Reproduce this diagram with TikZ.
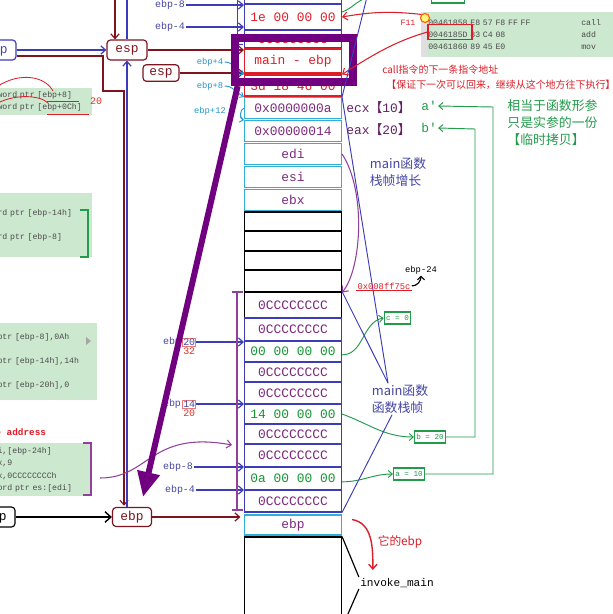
\documentclass[tikz,border=0pt]{standalone}
\usepackage{fontspec}
\setmonofont{Liberation Mono}
\newfontfamily\cjk{Noto Sans CJK SC}
\usepackage{tikz}
\usetikzlibrary{positioning, arrows.meta}
\definecolor{stackblue}{RGB}{60,60,185}
\definecolor{cellcyan}{RGB}{50,175,215}
\definecolor{cellpurple}{RGB}{125,40,125}
\definecolor{cellgreen}{RGB}{20,150,50}
\definecolor{regred}{RGB}{125,20,30}
\definecolor{labelblue}{RGB}{70,70,165}
\definecolor{labelcyan}{RGB}{40,150,205}
\definecolor{asmgreen}{RGB}{204,232,207}
\definecolor{asmgray}{RGB}{75,75,75}
\definecolor{hlviolet}{RGB}{112,0,128}
\definecolor{notered}{RGB}{220,30,40}
\definecolor{notegreen}{RGB}{35,155,75}
\definecolor{braceviolet}{RGB}{145,65,155}
\newcommand{\cellfont}{\fontsize{11}{13}\selectfont\ttfamily}
\newcommand{\lblfont}{\fontsize{8.5}{10}\selectfont\ttfamily}
\newcommand{\smallfont}{\fontsize{7.5}{9}\selectfont\ttfamily}
\newcommand{\notefont}{\fontsize{11}{14.5}\selectfont\cjk}

\begin{document}
\begin{tikzpicture}[x=0.03cm, y=-0.03cm,
    cell/.style={draw=stackblue, line width=.9pt, minimum width=2.91cm, inner sep=0pt,
                 text=cellpurple, font=\cellfont},
    regcell/.style={cell, draw=cellcyan},
    blankcell/.style={cell, draw=black},
    regbox/.style={draw, rounded corners=3pt, line width=1pt, minimum width=1.2cm,
                   minimum height=.6cm, inner sep=1pt, font=\cellfont},
    lbl/.style={inner sep=1pt, text=labelblue, font=\lblfont},
    lblc/.style={inner sep=1pt, text=labelcyan, font=\smallfont},
    numbox/.style={draw=notered!60, line width=.5pt, inner sep=.5pt, text=labelblue, font=\lblfont},
    rednum/.style={inner sep=1pt, text=notered!80!orange, font=\lblfont},
    valbox/.style={draw=notegreen, line width=1pt, inner sep=1.5pt, minimum height=.36cm,
                   text=notegreen, font=\fontsize{6.5}{8}\selectfont\ttfamily},
    codebox/.style={fill=asmgreen, anchor=north west, align=left, inner xsep=2pt, inner ysep=0pt,
                    text=asmgray},
    bluearr/.style={draw=stackblue, line width=1pt, -{Straight Barb[length=4pt,width=7pt]}},
    dkarr/.style={draw=regred, line width=1pt, -{Straight Barb[length=4pt,width=7pt]}},
    grnarr/.style={draw=notegreen, line width=.8pt, -{Straight Barb[length=3.5pt,width=6pt]}},
    cyanarr/.style={draw=labelcyan, line width=.8pt, -{Straight Barb[length=3pt,width=5pt]}},
    purparr/.style={draw=braceviolet, line width=.9pt, -{Straight Barb[length=4pt,width=7pt]}},
    redarr/.style={draw=notered, line width=.9pt, -{Straight Barb[length=4pt,width=7pt]}}]
  \path[use as bounding box, fill=white] (0,0) rectangle (612,614);

  % stack above the frame
  \node[cell, text=notered, minimum height=.78cm] (t0) at (293,-9) {0CCCCCCCC};
  \node[cell, text=notered, minimum height=.78cm] (t1) at (293,17) {1e 00 00 00};
  \node[cell, text=notered, minimum height=.54cm] (t2) at (293,39) {0CCCCCCCC};
  \node[cell, draw=notered, text=notered, minimum height=.72cm] (t3) at (293,61) {main - ebp};
  \node[cell, draw=notered, text=notered, minimum height=.63cm] (t4) at (293,85.5) {3d 18 46 00};
  % arguments and saved registers
  \node[regcell, minimum height=.63cm] (r1) at (293,108) {0x0000000a};
  \node[regcell, minimum height=.63cm] (r2) at (293,131) {0x00000014};
  \node[regcell, minimum height=.63cm] (r3) at (293,154) {edi};
  \node[regcell, minimum height=.63cm] (r4) at (293,177) {esi};
  \node[regcell, minimum height=.63cm] (r5) at (293,200) {ebx};
  \node[blankcell, minimum height=.57cm] (b1) at (293,221.5) {};
  \node[blankcell, minimum height=.6cm] (b2) at (293,241) {};
  \node[blankcell, minimum height=.57cm] (b3) at (293,260.5) {};
  \node[blankcell, minimum height=.66cm] (b4) at (293,281) {};
  % main frame
  \node[blankcell, text=cellpurple, minimum height=.78cm] (m1) at (293,305) {0CCCCCCCC};
  \node[cell, minimum height=.69cm] (m2) at (293,329.5) {0CCCCCCCC};
  \node[cell, text=cellgreen, minimum height=.63cm] (m3) at (293,351.5) {00 00 00 00};
  \node[cell, minimum height=.6cm] (m4) at (293,372) {0CCCCCCCC};
  \node[cell, minimum height=.66cm] (m5) at (293,393) {0CCCCCCCC};
  \node[cell, text=cellgreen, minimum height=.6cm] (m6) at (293,414) {14 00 00 00};
  \node[cell, minimum height=.6cm] (m7) at (293,434) {0CCCCCCCC};
  \node[cell, minimum height=.69cm] (m8) at (293,455.5) {0CCCCCCCC};
  \node[cell, text=cellgreen, minimum height=.69cm] (m9) at (293,478.5) {0a 00 00 00};
  \node[cell, minimum height=.66cm] (m10) at (293,501) {0CCCCCCCC};
  \node[regcell, minimum height=.6cm] (ebprow) at (293,525) {ebp};
  \node[blankcell, minimum height=2.7cm] (big) at (293,582) {};
  \node[inner sep=1pt, font=\fontsize{9.5}{11}\selectfont\ttfamily] (inv) at (397,583) {invoke\_main};
  \draw[line width=1pt] (big.north east) -- (inv.north west);
  \draw[line width=1pt] (inv.south west) -- (big.south east);

  % registers
  \node[regbox, draw=stackblue, text=labelblue] (lebpT) at (-4,50) {ebp};
  \node[regbox, draw=regred, text=regred] (esp1) at (127,50) {esp};
  \node[regbox, draw=regred, text=regred, minimum width=1.08cm, minimum height=.5cm] (esp2) at (161,73) {esp};
  \node[regbox, draw=black, text=black] (lebpB) at (-5,517) {ebp};
  \node[regbox, draw=regred, text=regred, minimum width=1.17cm, minimum height=.57cm] (ebpB) at (132,517) {ebp};
  \coordinate (topred) at (115,-5);
  \coordinate (kink) at (103,91);
  \coordinate (drop) at (124,91);
  \draw[bluearr] (lebpT) -- (esp1);
  \draw[dkarr] (topred) -- (topred |- esp1.north);
  \draw[draw=stackblue, line width=1pt] (esp1.north) -- (esp1.north |- topred);
  \draw[dkarr] ([yshift=-0.18cm]lebpT.east) -| (kink) -- (drop) -- ([yshift=1pt]drop |- ebpB.north);
  \draw[bluearr] (ebpB.north -| esp1.south) -- (esp1.south);
  \draw[dkarr] (esp1) -- (esp1 -| t3.west);
  \draw[dkarr] (esp2) -- (esp2 -| t3.west);
  \draw[line width=1.2pt, -{Straight Barb[length=5pt,width=9pt]}] (lebpB) -- (ebpB);
  \draw[dkarr, shorten >=3pt] (ebpB) -- (ebpB -| ebprow.west);

  % offsets
  \node[lbl] (lm8t) at (170,5) {ebp-8};
  \node[lbl] (lm4t) at (170,27) {ebp-4};
  \draw[bluearr] (lm8t) -- (lm8t -| t1.west);
  \draw[bluearr] (lm4t) -- (lm4t -| t1.west);
  \draw[stackblue, line width=.8pt] (237,-5) -- (237,44) -- (243,44);
  \node[lblc] (lp4) at (210,62) {ebp+4};
  \node[lblc] (lp8) at (210,86) {ebp+8};
  \node[lblc] (lp12) at (210,111) {ebp+12};
  \draw[cyanarr] (lp4.east) to[out=0,in=150] (t4.north west);
  \draw[cyanarr] (lp8.east) to[out=0,in=150] (r1.north west);
  \draw[cyanarr] (r1.west) to[out=200,in=170] (r2.north west);
  \node[lbl] (l20) at (172,342) {ebp};
  \node[numbox, right=0pt of l20] (n20) {20};
  \node[rednum, below=0pt of n20] (n32) {32};
  \node[lbl] (l14) at (172,404) {ebp};
  \node[numbox, right=0pt of l14] (n14) {14};
  \node[rednum, below=0pt of n14] (n20b) {20};
  \node[lbl] (lm8) at (178,467) {ebp-8};
  \node[lbl] (lm4) at (180,490) {ebp-4};
  \draw[bluearr] (n20) -- (n20 -| m3.west);
  \draw[bluearr] (n14) -- (n14 -| m6.west);
  \draw[bluearr] (lm8) -- (lm8 -| m9.west);
  \draw[bluearr] (lm4) -- (lm4 -| m10.west);
  \draw[braceviolet, line width=1pt] (232,292) -- (243,292) (237,292) -- (237,510) (232,510) -- (243,510);

  % left hand code
  \node[codebox, text width=2.75cm, minimum height=.81cm, font=\fontsize{7}{10.2}\selectfont\ttfamily]
    (code1) at (-5,88) {word ptr [ebp+8]\\word ptr [ebp+0Ch]};
  \draw[notered, line width=.7pt] (-2,86) .. controls (20,72) and (45,76) .. (53,91);
  \draw[notered, line width=.7pt] (-2,103) .. controls (15,94) and (40,95) .. (48,103);
  \draw[notered, line width=.7pt] (47,101) -- (79,101) (47,114) -- (89,114);
  \node[rednum] (n20a) at (96,101) {20};
  \node[codebox, text width=2.75cm, minimum height=1.92cm, font=\fontsize{7}{20.4}\selectfont\ttfamily]
    (code2) at (-5,193) {rd ptr [ebp-14h]\\rd ptr [ebp-8]};
  \draw[notegreen, line width=1pt] (80,210) -- (88,210) -- (88,257) -- (80,257);
  \node[codebox, text width=2.9cm, minimum height=2.31cm, font=\fontsize{7}{20.4}\selectfont\ttfamily]
    (code3) at (-5,323) {ptr [ebp-8],0Ah\\ptr [ebp-14h],14h\\ptr [ebp-20h],0};
  \fill[gray!70] (86,337) -- (91,341) -- (86,345) -- cycle;
  \node[anchor=west, inner sep=1pt, text=notered, font=\fontsize{8}{9}\selectfont\ttfamily\bfseries]
    (addrlbl) at (-6,432) {e address};
  \node[codebox, text width=2.71cm, minimum height=1.59cm, font=\fontsize{7}{10.5}\selectfont\ttfamily]
    (code4) at (-5,443) {i,[ebp-24h]\\x,9\\x,0CCCCCCCCh\\ord ptr es:[edi]};
  \draw[braceviolet, line width=1pt] (83,443) -- (91,443) -- (91,495) -- (83,495);
  \coordinate (c4out) at (100,478);
  \coordinate (m8in) at (232,445);
  \draw[purparr] (c4out) .. controls (150,478) and (150,430) .. (m8in);

  % highlight of the return address
  \node[draw=hlviolet, line width=.24cm, minimum width=3.54cm, minimum height=1.32cm, inner sep=0pt]
    (hl) at (294,60) {};
  \draw[hlviolet, line width=.18cm, -{Triangle[length=.75cm,width=.65cm]}]
    ([xshift=0.2cm]hl.south west) -- ([xshift=.33cm,yshift=.3cm]ebpB.north);

  % disassembly
  \node[codebox, inner xsep=6pt, text width=5.9cm, minimum height=1.35cm, font=\fontsize{7}{10.2}\selectfont\ttfamily]
    (dasm) at (421,12) {\makebox[4.59cm][l]{00461858 E8 57 F8 FF FF}call\\
                        \makebox[4.59cm][l]{0046185D 83 C4 08}add\\
                        \makebox[4.59cm][l]{00461860 89 45 E0}mov};
  \fill[gray!25] (421,12) rectangle (427,57);
  \node[draw=notered, line width=1pt, inner sep=0pt, minimum width=1.32cm, minimum height=.45cm]
    (retbox) at (450,32) {};
  \node[inner sep=1pt, text=notered, font=\fontsize{7}{8}\selectfont\ttfamily] (f11) at (408,23) {F11};
  \node[circle, draw=orange!80!red, fill=yellow!50, line width=1pt, minimum size=.27cm, inner sep=0pt]
    (dot) at (425,18) {};
  \node[draw=notegreen, line width=1pt, minimum width=1cm, minimum height=.6cm] (topbox) at (448,-7) {};
  \coordinate (topgreen) at (366,-2);
  \draw[notegreen, line width=.8pt] ([yshift=.15cm]t1.east) to[out=20,in=200] (topgreen);
  \draw[redarr] (dot.north west) to[bend right=8] (t1.east);
  \draw[redarr] (retbox.west) .. controls (400,40) and (380,50) .. (t4.north east);
  \node[anchor=west, inner sep=1pt, text=notered, font=\fontsize{8.5}{10}\selectfont\cjk]
    (callnote) at (381,70) {call指令的下一条指令地址};
  \node[anchor=west, inner sep=1pt, text=notered, font=\fontsize{8.5}{10}\selectfont\cjk]
    (keepnote) at (385,85) {【保证下一次可以回来，继续从这个地方往下执行】};

  % copies of the arguments
  \node[anchor=west, inner sep=1pt, text=cellpurple!80!black, font=\cellfont]
    (ecx) at (345,108) {ecx{\cjk 【}10{\cjk 】}};
  \node[anchor=west, inner sep=1pt, text=cellpurple!80!black, font=\cellfont]
    (eax) at (345,130) {eax{\cjk 【}20{\cjk 】}};
  \node[inner sep=1pt, text=notegreen, font=\cellfont] (ap) at (429,106) {a'};
  \node[inner sep=1pt, text=notegreen, font=\cellfont] (bp) at (429,128) {b'};
  \node[anchor=north west, align=left, inner sep=1pt, text=notegreen, font=\notefont]
    (copynote) at (506,98) {相当于函数形参\\只是实参的一份\\【临时拷贝】};
  \node[valbox] (cv) at (397.5,318) {c = 0};
  \node[valbox] (bv) at (430,437) {b = 20};
  \node[valbox] (av) at (409,474) {a = 10};
  \coordinate (ga) at (493,107);
  \coordinate (gb) at (475,129);
  \draw[grnarr] (av.east) -| (ga) -- (ap.east);
  \draw[grnarr] (bv.east) -| (gb) -- (bp.east);
  \draw[grnarr] ([yshift=-.1cm]m3.east) to[out=0,in=190] (cv.west);
  \draw[grnarr] (m6.east) to[out=-20,in=180] (bv.west);
  \draw[grnarr] ([yshift=-.1cm]m9.east) to[out=0,in=180] (av.west);

  % frame notes
  \node[align=left, inner sep=1pt, text=labelblue, font=\notefont] (grow) at (398,172) {main函数\\栈帧增长};
  \node[align=left, inner sep=1pt, text=labelblue, font=\notefont] (frame) at (400,399) {main函数\\函数栈帧};
  \coordinate (topline) at (367,-3);
  \draw[stackblue, line width=.8pt] (topline) -- (r1.north east) -- ([xshift=-.36cm]frame.north);
  \draw[stackblue, line width=.8pt] (m1.north east) -- ([xshift=-.36cm]frame.north);
  \draw[stackblue, line width=.8pt] (m10.south east) -- ([xshift=-.24cm]frame.south);
  \draw[purparr] (r3.east) .. controls (366,190) and (362,268) .. (b4.south east);
  \node[inner sep=1pt, text=notered, font=\smallfont] (addr) at (384,286) {0x008ff75c};
  \draw[notered, line width=1pt] (addr.south west) -- (addr.south east);
  \node[inner sep=1pt, font=\smallfont] (e24) at (421,270) {ebp-24};
  \draw[line width=1pt, -{Straight Barb[length=3pt,width=6pt]}] (addr.east) to[out=0,in=-90] (e24.south);
  \node[inner sep=1pt, text=notered, font=\fontsize{10}{12}\selectfont\cjk] (itsebp) at (400,542) {它的ebp};
  \draw[redarr, line width=1.2pt] ([xshift=.3cm,yshift=-.15cm]ebprow.north east)
    to[out=-10,in=90] ([xshift=.42cm,yshift=.21cm]inv.north west);
\end{tikzpicture}
\end{document}
